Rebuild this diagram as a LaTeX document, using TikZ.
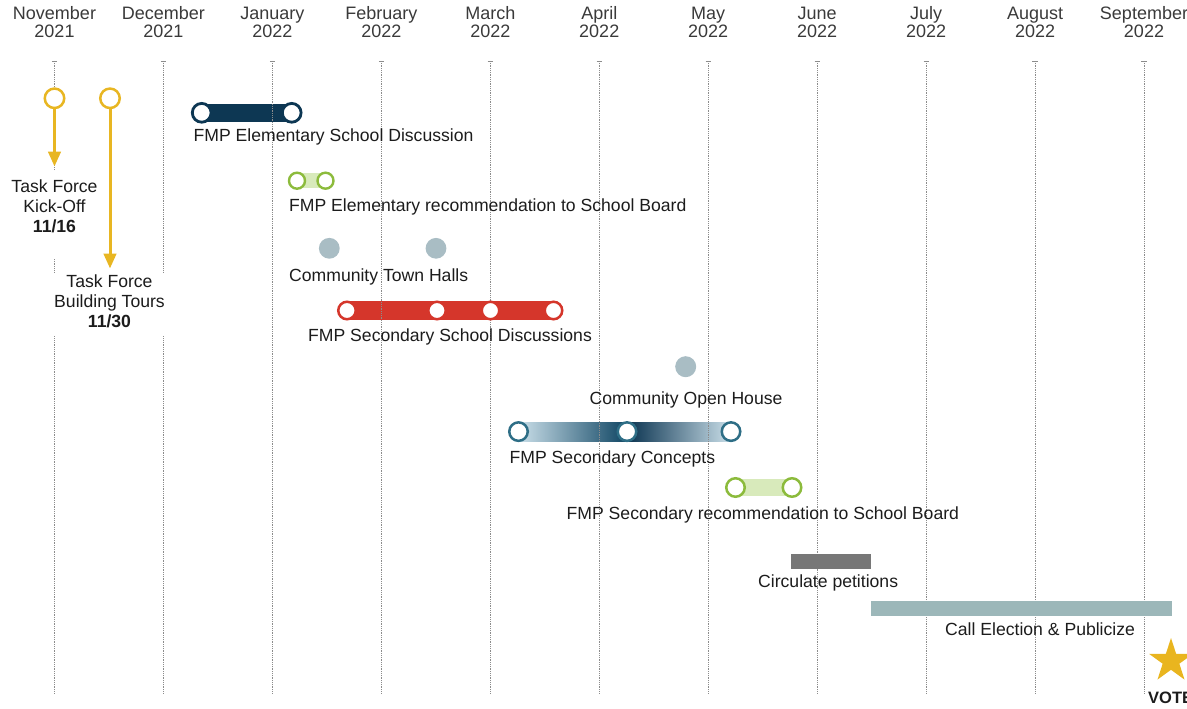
\documentclass[tikz,border=0pt]{standalone}
\usepackage{fontspec}
\setmainfont{Liberation Sans}
\usetikzlibrary{shapes.geometric,arrows.meta}
\definecolor{navy}{HTML}{0D3753}
\definecolor{redA}{HTML}{D5362B}
\definecolor{redB}{HTML}{E57A6C}
\definecolor{redC}{HTML}{DC5043}
\definecolor{conLight}{HTML}{CADFE9}
\definecolor{conDark}{HTML}{0F4563}
\definecolor{conDarker}{HTML}{0A3350}
\definecolor{conRing}{HTML}{2E6E86}
\definecolor{fmpGreen}{HTML}{8CBB3C}
\definecolor{glowGreen}{HTML}{86C232}
\definecolor{paleGreen}{HTML}{D8EABB}
\definecolor{dotGray}{HTML}{A9BDC4}
\definecolor{petGray}{HTML}{777777}
\definecolor{callTeal}{HTML}{9CB7B9}
\definecolor{tfYellow}{HTML}{E8B622}
\definecolor{starGold}{HTML}{E9B51F}
\definecolor{gridGray}{HTML}{8C8C8C}
\definecolor{txt}{HTML}{1C1C1C}
\definecolor{hdrTxt}{HTML}{3A3A3A}
\newcommand\lblfont{\fontsize{17.6}{20}\selectfont}
\newcommand\hdrfont{\fontsize{18}{20}\selectfont}
\newcommand\votefont{\fontsize{16.5}{19}\selectfont\bfseries}
\pgfdeclarelayer{barlayer}
\pgfdeclarelayer{gridlayer}
\pgfsetlayers{barlayer,gridlayer,main}
\begin{document}
\begin{tikzpicture}[x=1pt,y=-1pt,
  vline/.style={draw=gridGray,line width=0.7pt,dash pattern=on 0.9pt off 0.9pt},
  tickmark/.style={draw=gridGray,line width=0.7pt},
  hdr/.style={anchor=base,inner sep=0,font=\hdrfont,text=hdrTxt},
  lbl/.style={anchor=base west,inner sep=0,font=\lblfont,text=txt},
  clbl/.style={anchor=base,inner sep=0,font=\lblfont,text=txt},
  ring/.style={circle,draw=#1,fill=white,inner sep=0,line width=2.6pt,minimum size=18pt},
  dotnode/.style={circle,fill=dotGray,inner sep=0,minimum size=20.8pt},
  yarrow/.style={draw=tfYellow,line width=3pt,-{Triangle[width=12.5pt,length=15pt]}},
  barnode/.style={rectangle,inner sep=0,draw=none}
]
\useasboundingbox (0,0) rectangle (1187,709);

% month grid
\foreach \i/\m/\yr in {0/November/2021,1/December/2021,2/January/2022,3/February/2022,
  4/March/2022,5/April/2022,6/May/2022,7/June/2022,8/July/2022,9/August/2022,10/September/2022}{
  \coordinate (t\i) at ({54.5+108.95*\i},61);
  \coordinate (b\i) at ({54.5+108.95*\i},693);
  \node[hdr] (hm\i) at ({54.5+108.95*\i},20) {\m};
  \node[hdr] (hy\i) at ({54.5+108.95*\i},38) {\yr};
}
\begin{pgfonlayer}{gridlayer}
\foreach \i in {0,...,10}{
  \draw[tickmark] ([xshift=-2.6pt]t\i) -- ([xshift=2.6pt]t\i);
  \draw[vline] (t\i) -- (b\i);
}
\end{pgfonlayer}

% Task force arrows
\node[ring=tfYellow,minimum size=19.5pt,line width=2.5pt] (y1) at (54.5,98.3) {};
\node[ring=tfYellow,minimum size=19.5pt,line width=2.5pt] (y2) at (110,98.3) {};
\coordinate (y1e) at (54.5,166.5);
\coordinate (y2e) at (110,268.5);
\draw[yarrow] (y1) -- (y1e);
\draw[yarrow] (y2) -- (y2e);
\fill[white] (10,171) rectangle (99,259);
\fill[white] (50,273) rectangle (170,336);
\node[clbl] (k1) at (54.5,192.5) {Task Force};
\node[clbl] (k2) at (54.5,212.5) {Kick-Off};
\node[clbl,font=\lblfont\bfseries] (k3) at (54.5,232.5) {11/16};
\node[clbl] (bt1) at (109.5,287.5) {Task Force};
\node[clbl] (bt2) at (109.5,307.5) {Building Tours};
\node[clbl,font=\lblfont\bfseries] (bt3) at (109.5,327.5) {11/30};

% FMP Elementary School Discussion
\node[ring=navy,minimum size=18.8pt,line width=2.8pt] (e1) at (201.7,112.8) {};
\node[ring=navy,minimum size=18.8pt,line width=2.8pt] (e2) at (291.7,112.8) {};
\node[lbl] (l1) at (193.5,142) {FMP Elementary School Discussion};

% FMP Elementary recommendation
\node[ring=fmpGreen,minimum size=16pt,line width=2.4pt] (g1) at (297,180.7) {};
\node[ring=fmpGreen,minimum size=16pt,line width=2.4pt] (g2) at (325.5,180.7) {};
\node[lbl] (l2) at (289,211) {FMP Elementary recommendation to School Board};

% Town halls
\node[dotnode] (d1) at (329.3,248.3) {};
\node[dotnode] (d2) at (436,248.3) {};
\node[lbl] (l3) at (289,281) {Community Town Halls};

% Secondary school discussions
\node[ring=redA,minimum size=17.5pt,line width=2.5pt] (r1) at (347,310.5) {};
\node[ring=redA,minimum size=17.5pt,line width=2.5pt] (r2) at (437,310.5) {};
\node[ring=redA,minimum size=17.5pt,line width=2.5pt] (r3) at (490.5,310.5) {};
\node[ring=redA,minimum size=17.5pt,line width=2.5pt] (r4) at (553.5,310.5) {};
\node[lbl] (l4) at (308,341) {FMP Secondary School Discussions};

% Open house
\node[dotnode,minimum size=21pt] (d3) at (685.7,366.7) {};
\node[lbl] (l5) at (589.5,404) {Community Open House};

% Secondary concepts
\node[ring=conRing,minimum size=18.5pt,line width=2.5pt] (c1) at (518.5,431.6) {};
\node[ring=conRing,minimum size=18.5pt,line width=2.5pt] (c2) at (627,431.6) {};
\node[ring=conRing,minimum size=18.5pt,line width=2.5pt] (c3) at (731,431.6) {};
\node[lbl] (l6) at (509.5,463) {FMP Secondary Concepts};

% Secondary recommendation
\node[ring=fmpGreen,minimum size=18.5pt,line width=2.5pt] (s1) at (735.5,487.5) {};
\node[ring=fmpGreen,minimum size=18.5pt,line width=2.5pt] (s2) at (792,487.5) {};
\node[lbl] (l7) at (566.5,519) {FMP Secondary recommendation to School Board};

% Petitions and election
\node[barnode,fill=petGray,minimum width=80pt,minimum height=15.3pt] (pet) at (830.7,561.7) {};
\node[lbl] (l8) at (758,587.5) {Circulate petitions};
\node[barnode,fill=callTeal,minimum width=301pt,minimum height=15pt] (call) at (1021.2,608.5) {};
\node[lbl] (l9) at (945,635.5) {Call Election \& Publicize};

% Vote
\node[star,star points=5,star point ratio=2.618,fill=starGold,minimum size=46pt,inner sep=0] (vote) at (1171,661) {};
\node[lbl,font=\votefont] (l10) at (1148,703) {VOTE};

% bars behind the rings
\begin{pgfonlayer}{barlayer}
\fill[navy] ([yshift=-8.8pt]e1.center) rectangle ([yshift=8.8pt]e2.center);
\shade[left color=paleGreen,middle color=glowGreen,right color=paleGreen]
  ([yshift=-7pt]g1.center) rectangle ([yshift=7pt]g2.center);
\shade[left color=redA,middle color=redB,right color=redA]
  ([yshift=-9pt]r1.center) rectangle ([yshift=9pt]r2.center);
\shade[left color=redA,middle color=redC,right color=redA]
  ([yshift=-9pt]r2.center) rectangle ([yshift=9pt]r3.center);
\shade[left color=redA,middle color=redB,right color=redA]
  ([yshift=-9pt]r3.center) rectangle ([yshift=9pt]r4.center);
\shade[left color=conLight,right color=conDark]
  ([yshift=-9.5pt]c1.center) rectangle ([yshift=9.5pt]c2.center);
\shade[left color=conDarker,right color=conLight]
  ([yshift=-9.5pt]c2.center) rectangle ([yshift=9.5pt]c3.center);
\shade[left color=paleGreen,middle color=glowGreen,right color=paleGreen]
  ([yshift=-8pt]s1.center) rectangle ([yshift=8pt]s2.center);
\end{pgfonlayer}
\end{tikzpicture}
\end{document}
